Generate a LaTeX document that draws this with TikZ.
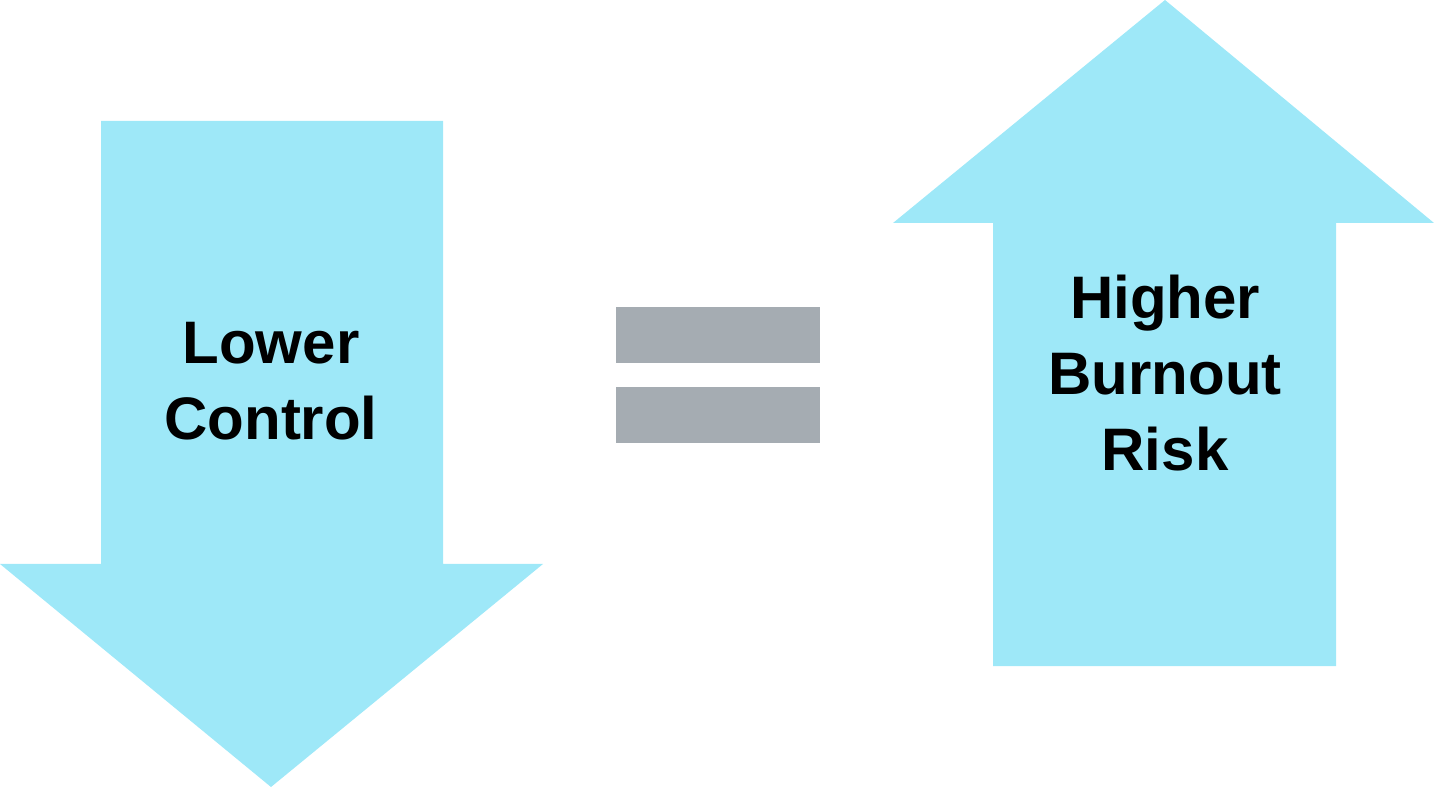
\documentclass[tikz,border=0pt]{standalone}
\usepackage{fontspec}
\setmainfont{Liberation Sans}
\definecolor{arrowcyan}{HTML}{9EE8F8}
\definecolor{bargray}{HTML}{A5ACB2}
\begin{document}
\begin{tikzpicture}[x=1pt,y=1pt,
  bigarrow/.style={fill=arrowcyan,draw=none},
  bar/.style={fill=bargray,draw=none},
  label/.style={font=\fontsize{60}{76}\selectfont\bfseries,align=center,anchor=base,inner sep=0pt,text=black}]
\useasboundingbox (0,0) rectangle (1434,790);
% downward arrow
\fill[bigarrow] (101,669) -- (443,669) -- (443,226) -- (543,226) -- (271,3)
  -- (0,226) -- (101,226) -- cycle;
% upward arrow
\fill[bigarrow] (993,124) -- (1336,124) -- (1336,567) -- (1434,567) -- (1165,790)
  -- (893,567) -- (993,567) -- cycle;
% equals sign
\fill[bar] (616,483) rectangle (820,427);
\fill[bar] (616,403) rectangle (820,347);
% labels (anchored at the baseline of their last line)
\node[label] (lower) at (271,350) {Lower\\Control};
\node[label] (higher) at (1165,319) {Higher\\Burnout\\Risk};
\end{tikzpicture}
\end{document}
